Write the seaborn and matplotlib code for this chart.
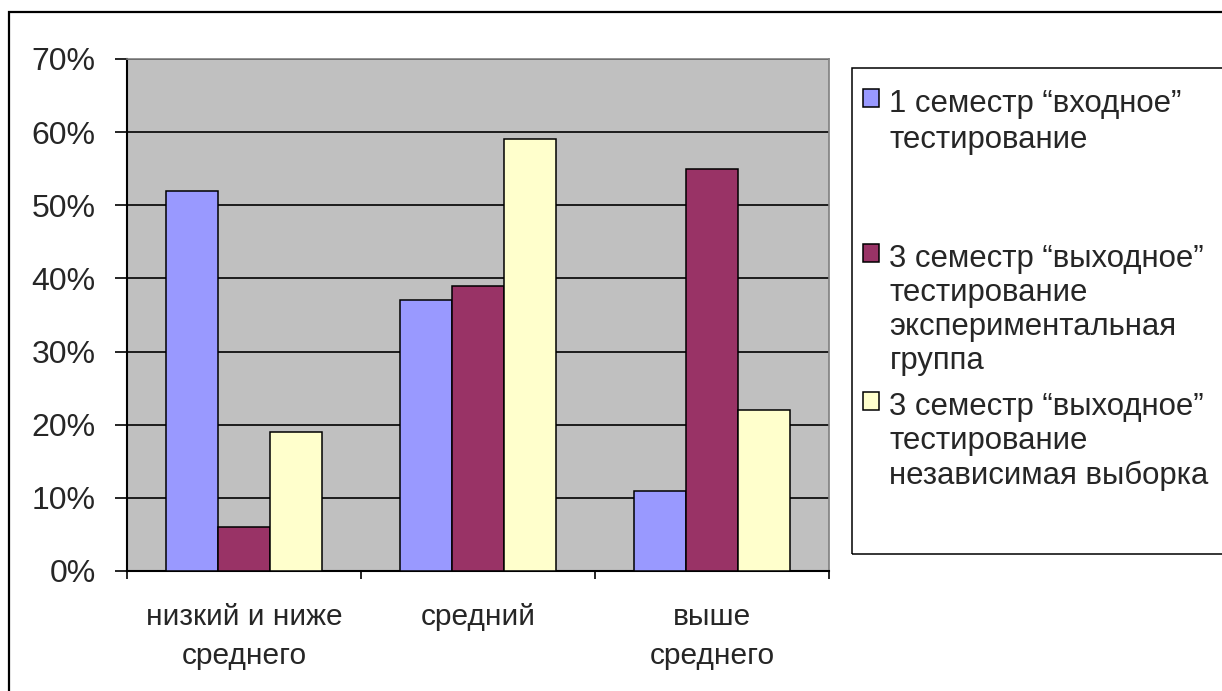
import pandas as pd
import matplotlib.pyplot as plt
import seaborn as sns
from matplotlib.patches import Patch, Rectangle
from matplotlib.ticker import PercentFormatter

# data
levels = ['низкий и ниже\nсреднего', 'средний', 'выше\nсреднего']
series = [
    '1 семестр “входное”\nтестирование\n\n',
    '3 семестр “выходное”\nтестирование\nэкспериментальная\nгруппа',
    '3 семестр “выходное”\nтестирование\nнезависимая выборка',
]
entry_test = [0.52, 0.37, 0.11]
exit_experimental = [0.06, 0.39, 0.55]
exit_independent = [0.19, 0.59, 0.22]
colors = ['#9999FF', '#993366', '#FFFFCC']

df = pd.DataFrame({
    'level': levels * 3,
    'series': [series[0]] * 3 + [series[1]] * 3 + [series[2]] * 3,
    'value': entry_test + exit_experimental + exit_independent,
})

sns.set_style('white')
plt.rcParams['font.family'] = ['Liberation Sans', 'DejaVu Sans']
fs = 23

W, H = 1222, 691
fig = plt.figure(figsize=(W / 100, H / 100), dpi=100)
ax = fig.add_axes([127 / W, 1 - 571 / H, (829 - 127) / W, (571 - 59) / H])
ax.set_facecolor('#C0C0C0')

sns.barplot(data=df, x='level', y='value', hue='series', order=levels,
            hue_order=series, palette=colors, saturation=1, width=0.667,
            edgecolor='black', linewidth=1.1, legend=False, ax=ax, zorder=3)

#axes and grid
ax.set_xlim(-0.5, 2.5)
ax.set_ylim(0, 0.7)
ax.set_yticks([i / 10 for i in range(8)])
ax.yaxis.set_major_formatter(PercentFormatter(1.0, decimals=0))
ax.grid(True, axis='y', color='black', linewidth=1.2, zorder=1)
ax.set_axisbelow(True)
ax.set_xticks([-0.5, 0.5, 1.5, 2.5], labels=[''] * 4)
ax.set_xticks([0, 1, 2], labels=levels, minor=True)
ax.tick_params(axis='x', which='major', direction='out', length=6, width=1.2, color='black', bottom=True)
ax.tick_params(axis='x', which='minor', length=0, pad=23, labelsize=21.5)
ax.tick_params(axis='y', direction='out', length=8.5, width=1.2, color='black', pad=14, labelsize=fs, left=True)
for lab in ax.get_xticklabels(minor=True):
    lab.set_linespacing(1.5)
ax.set_xlabel('')
ax.set_ylabel('')
for side in ['left', 'bottom']:
    ax.spines[side].set_color('black')
    ax.spines[side].set_linewidth(1.5)
for side in ['top', 'right']:
    ax.spines[side].set_color('#808080')
    ax.spines[side].set_linewidth(1.2)

#legend
handles = [Patch(facecolor=c, edgecolor='black', linewidth=1.1) for c in colors]
leg = ax.legend(handles, series, loc='upper left', bbox_to_anchor=(863 / W, 1 - 89 / H),
                bbox_transform=fig.transFigure, frameon=False, fontsize=22.4,
                handlelength=0.5, handleheight=0.5, handletextpad=0.35,
                borderpad=0, borderaxespad=0, labelspacing=0.5)
for t in leg.get_texts():
    t.set_linespacing(1.18)
leg.get_texts()[0].set_linespacing(1.28)
for col in leg._legend_handle_box.get_children():
    for item in col.get_children():
        item.align = 'top'

# legend box and outer border
fig.add_artist(Rectangle((852 / W, 1 - 554 / H), 1, (554 - 68) / H, transform=fig.transFigure,
                         fill=False, edgecolor='black', linewidth=1.1))
fig.add_artist(Rectangle((9 / W, -0.1), 1.2, 1.1 - 12 / H, transform=fig.transFigure,
                         fill=False, edgecolor='black', linewidth=1.6))

plt.savefig('out.png', dpi=100)
